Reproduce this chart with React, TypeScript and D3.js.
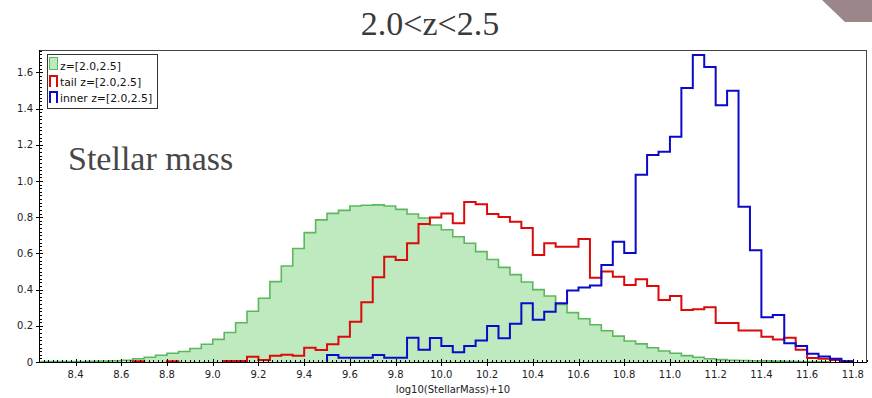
import React from "react";
import * as d3 from "d3";

const WIDTH = 872;
const HEIGHT = 398;

// Histogram bins: lower edges, 0.05 dex wide
const binWidth = 0.05;
const binLow = d3.range(71).map((i) => +(8.25 + i * binWidth).toFixed(2));

// All galaxies, z=[2.0,2.5] (filled)
const allValues: (number | null)[] = [
  0.002, 0.002, 0.003, 0.003, 0.004, 0.005, 0.007, 0.010, 0.018, 0.026,
  0.037, 0.048, 0.058, 0.075, 0.098, 0.125, 0.163, 0.217, 0.280, 0.352,
  0.444, 0.530, 0.627, 0.715, 0.785, 0.821, 0.838, 0.862, 0.866, 0.868,
  0.862, 0.843, 0.818, 0.796, 0.757, 0.731, 0.692, 0.656, 0.610, 0.566,
  0.523, 0.483, 0.442, 0.400, 0.365, 0.318, 0.273, 0.239, 0.206, 0.173,
  0.143, 0.116, 0.100, 0.079, 0.061, 0.048, 0.035, 0.026, 0.018, 0.013,
  0.010, 0.008, 0.007, 0.006, 0.005, 0.004, 0.003, 0.002, 0.001, null,
  null,
];

// Tail sample
const tailValues: (number | null)[] = [
  null, null, null, null, null, null, null, null, 0.004, null,
  null, 0.004, null, null, null, null, 0.005, 0.005, 0.029, 0.011,
  0.035, 0.040, 0.035, 0.079, 0.066, 0.098, 0.140, 0.223, 0.330, 0.468,
  0.582, 0.564, 0.656, 0.763, 0.798, 0.821, 0.766, 0.884, 0.872, 0.818,
  0.801, 0.775, 0.740, 0.591, 0.656, 0.637, 0.637, 0.680, 0.466, 0.500,
  0.471, 0.425, 0.457, 0.420, 0.343, 0.365, 0.287, 0.292, 0.302, 0.215,
  0.215, 0.174, 0.174, 0.140, 0.124, 0.134, 0.068, 0.022, 0.018, 0.011,
  0.004,
];

// Inner sample
const innerValues: (number | null)[] = [
  null, null, null, null, null, null, null, null, null, null,
  null, null, null, null, null, null, null, null, null, null,
  null, null, null, null, null, 0.039, 0.024, 0.024, 0.024, 0.039,
  0.024, 0.024, 0.134, 0.068, 0.133, 0.089, 0.054, 0.089, 0.119, 0.199,
  0.131, 0.212, 0.324, 0.234, 0.278, 0.324, 0.395, 0.411, 0.422, 0.536,
  0.665, 0.602, 1.034, 1.144, 1.162, 1.245, 1.514, 1.696, 1.630, 1.418,
  1.499, 0.858, 0.617, 0.247, 0.260, 0.103, 0.088, 0.045, 0.030, 0.018,
  0.004,
];

const xTicks = [8.4, 8.6, 8.8, 9.0, 9.2, 9.4, 9.6, 9.8, 10.0, 10.2, 10.4, 10.6, 10.8, 11.0, 11.2, 11.4, 11.6, 11.8];
const yTicks = [0, 0.2, 0.4, 0.6, 0.8, 1.0, 1.2, 1.4, 1.6];
const yTickLabels = ["0", "0.2", "0.4", "0.6", "0.8", "1.0", "1.2", "1.4", "1.6"];

const legendLabels = ["z=[2.0,2.5]", "tail z=[2.0,2.5]", "inner z=[2.0,2.5]"];

const GREEN_FILL = "#bfe9bf";
const GREEN_LINE = "#5cb85c";
const RED = "#dc0a0a";
const BLUE = "#0a0ac8";

const plot = { left: 39, right: 867, top: 50, bottom: 362 };

const x = d3.scaleLinear().domain([8.24, 11.862]).range([plot.left, plot.right]);
const y = d3.scaleLinear().domain([0, 1.7238]).range([plot.bottom, plot.top]);

// Split a binned series into contiguous runs of step points, each closed to zero
function stepRuns(values: (number | null)[]): [number, number][][] {
  const runs: [number, number][][] = [];
  let cur: [number, number][] | null = null;
  let lastHigh = 0;
  values.forEach((v, i) => {
    if (v == null) {
      if (cur) {
        cur.push([lastHigh, 0]);
        runs.push(cur);
        cur = null;
      }
      return;
    }
    const x0 = binLow[i];
    const x1 = x0 + binWidth;
    if (!cur) cur = [[x0, 0]];
    cur.push([x0, v], [x1, v]);
    lastHigh = x1;
  });
  if (cur) {
    (cur as [number, number][]).push([lastHigh, 0]);
    runs.push(cur);
  }
  return runs;
}

const line = d3
  .line<[number, number]>()
  .x((d) => x(d[0]))
  .y((d) => y(d[1]));

const fmt = d3.format(".1f");

export default function App() {
  const greenRuns = stepRuns(allValues);
  const redRuns = stepRuns(tailValues);
  const blueRuns = stepRuns(innerValues);

  const xMinor = d3.range(Math.round(8.24 / 0.02), Math.round(11.86 / 0.02) + 1).map((k) => k * 0.02);
  const yMinor = d3.range(0, Math.round(1.72 / 0.02) + 1).map((k) => k * 0.02);

  const tickFont = "'DejaVu Sans', Verdana, sans-serif";
  const serif = "'Liberation Serif', 'Times New Roman', serif";

  return (
    <svg
      width={WIDTH}
      height={HEIGHT}
      viewBox={`0 0 ${WIDTH} ${HEIGHT}`}
      style={{ position: "absolute", left: 0, top: 0, background: "#fff" }}
    >
      <rect x={0} y={0} width={WIDTH} height={HEIGHT} fill="#fff" />

      {/* corner ornament */}
      <polygon points="822,0 872,0 872,22 845,22" fill="#9b8689" />

      {/* title */}
      <text x={430} y={35} textAnchor="middle" fontFamily={serif} fontSize={34} fill="#3a3a3a">
        2.0&lt;z&lt;2.5
      </text>

      {/* plot frame */}
      <rect
        x={plot.left + 0.5}
        y={plot.top + 0.5}
        width={plot.right - plot.left - 1}
        height={plot.bottom - plot.top}
        fill="#fff"
        stroke="#444"
        strokeWidth={1}
      />

      {/* histograms */}
      {greenRuns.map((r, i) => (
        <path key={`ga${i}`} d={line(r) ?? ""} fill={GREEN_FILL} stroke="none" />
      ))}
      {greenRuns.map((r, i) => (
        <path key={`gl${i}`} d={line(r) ?? ""} fill="none" stroke={GREEN_LINE} strokeWidth={1.6} strokeLinejoin="miter" />
      ))}
      {redRuns.map((r, i) => (
        <path key={`r${i}`} d={line(r) ?? ""} fill="none" stroke={RED} strokeWidth={2} strokeLinejoin="miter" />
      ))}
      {blueRuns.map((r, i) => (
        <path key={`b${i}`} d={line(r) ?? ""} fill="none" stroke={BLUE} strokeWidth={2} strokeLinejoin="miter" />
      ))}

      {/* axes */}
      <line x1={plot.left + 0.5} x2={plot.left + 0.5} y1={plot.top} y2={plot.bottom + 0.5} stroke="#000" />
      <line x1={plot.left} x2={plot.right} y1={plot.bottom + 0.5} y2={plot.bottom + 0.5} stroke="#000" />

      {xMinor.map((v, i) => (
        <line key={`xm${i}`} x1={Math.round(x(v)) + 0.5} x2={Math.round(x(v)) + 0.5} y1={plot.bottom} y2={plot.bottom - 2} stroke="#000" />
      ))}
      {yMinor.map((v, i) => (
        <line key={`ym${i}`} x1={plot.left + 1} x2={plot.left + 3} y1={Math.round(y(v)) + 0.5} y2={Math.round(y(v)) + 0.5} stroke="#000" />
      ))}

      {xTicks.map((v) => (
        <g key={`xt${v}`}>
          <line x1={Math.round(x(v)) + 0.5} x2={Math.round(x(v)) + 0.5} y1={plot.bottom - 3} y2={plot.bottom + 4} stroke="#000" />
          <text x={x(v)} y={378} textAnchor="middle" fontFamily={tickFont} fontSize={10} fill="#222">
            {fmt(v)}
          </text>
        </g>
      ))}
      {yTicks.map((v, i) => (
        <g key={`yt${v}`}>
          <line x1={plot.left - 3} x2={plot.left + 4} y1={Math.round(y(v)) + 0.5} y2={Math.round(y(v)) + 0.5} stroke="#000" />
          <text x={33} y={y(v) + 3.5} textAnchor="end" fontFamily={tickFont} fontSize={10} fill="#222">
            {yTickLabels[i]}
          </text>
        </g>
      ))}

      <text x={453} y={393} textAnchor="middle" fontFamily={tickFont} fontSize={10} fill="#222">
        log10(StellarMass)+10
      </text>

      {/* legend */}
      <rect x={47.5} y={54.5} width={110} height={54} fill="#fff" stroke="#333" />
      <rect x={49.5} y={57.5} width={8} height={12} fill={GREEN_FILL} stroke={GREEN_LINE} />
      <path d="M50,87 V76 H57 V87" fill="none" stroke={RED} strokeWidth={2} />
      <path d="M50,103 V92 H57 V103" fill="none" stroke={BLUE} strokeWidth={2} />
      {legendLabels.map((t, i) => (
        <text key={t} x={60} y={70 + i * 15.8} fontFamily={tickFont} fontSize={10.8} fill="#111">
          {t}
        </text>
      ))}

      {/* annotation */}
      <text x={68} y={170} fontFamily={serif} fontSize={34} fill="#474747">
        Stellar mass
      </text>
    </svg>
  );
}
